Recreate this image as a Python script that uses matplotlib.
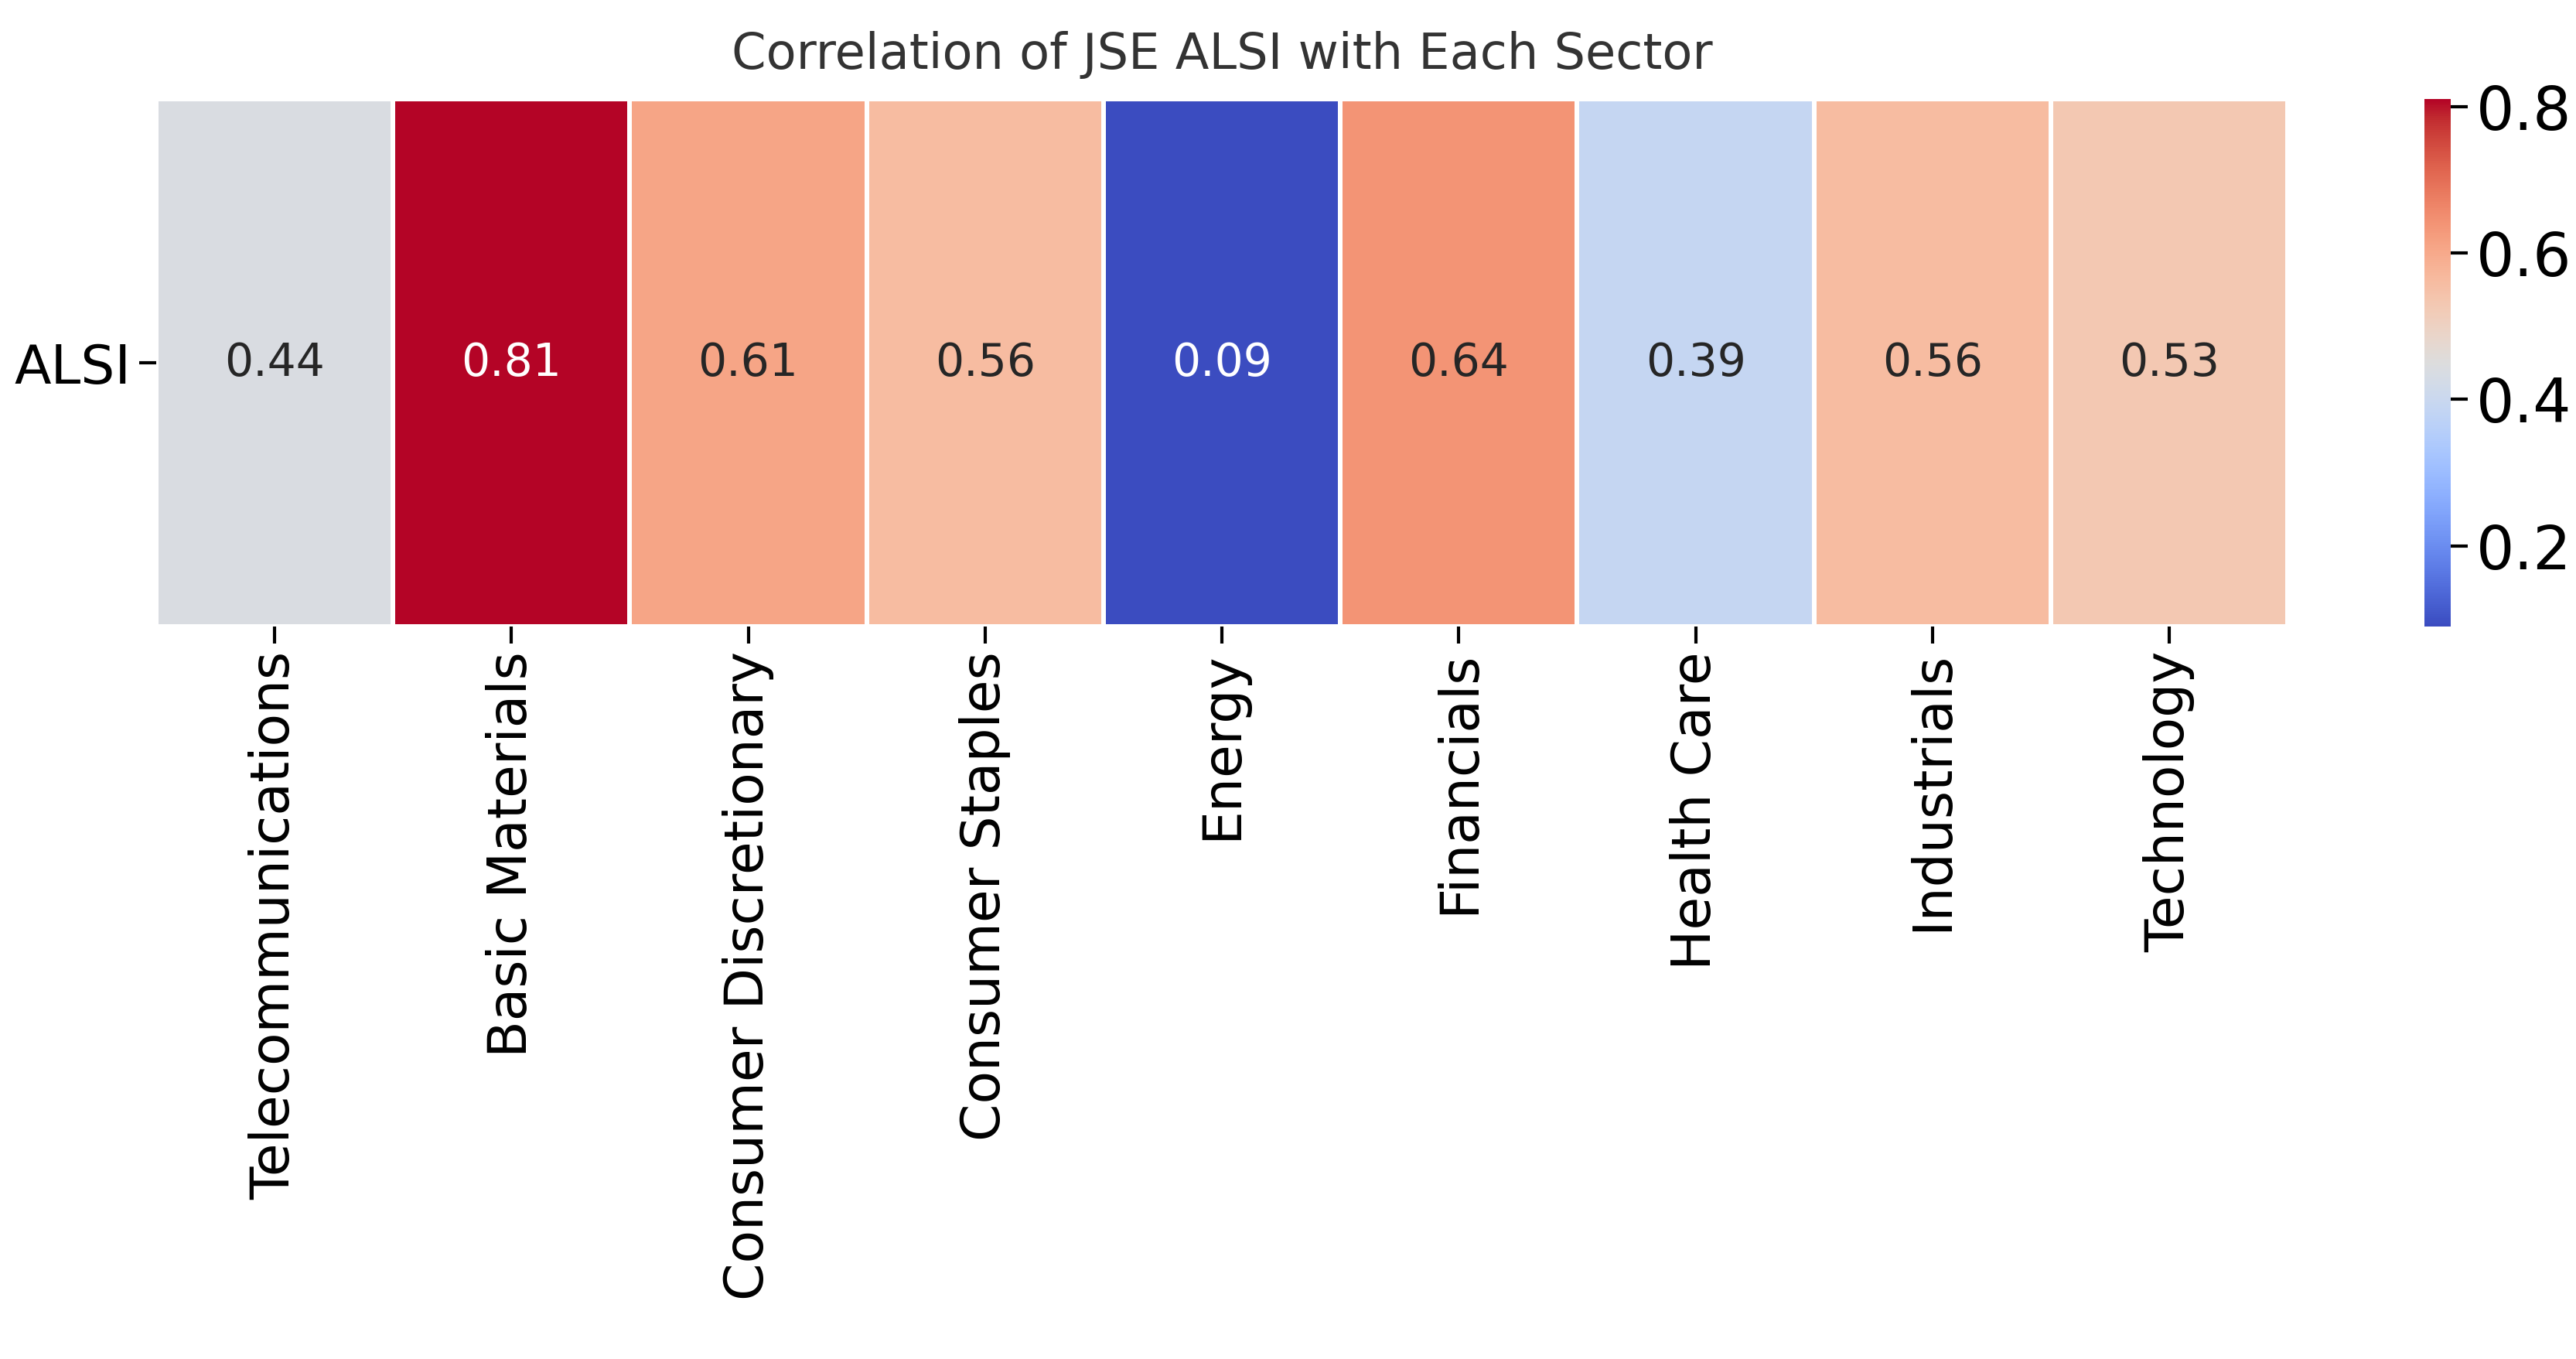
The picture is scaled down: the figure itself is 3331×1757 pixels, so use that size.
import matplotlib
matplotlib.use("Agg")
import matplotlib.pyplot as plt
import numpy as np

sectors = ["Telecommunications", "Basic Materials", "Consumer Discretionary", "Consumer Staples",
           "Energy", "Financials", "Health Care", "Industrials", "Technology"]
values = [0.44, 0.81, 0.61, 0.56, 0.09, 0.64, 0.39, 0.56, 0.53]
row_label = "ALSI"
cbar_ticks = [0.2, 0.4, 0.6, 0.8]

fig = plt.figure(figsize=(3331/200, 1757/200), dpi=200)
ax = fig.add_axes([0.0606, 0.539, 0.8275, 0.388])
cax = fig.add_axes([0.9413, 0.539, 0.0102, 0.388])

data = np.array([values])
vmin, vmax = min(values), max(values)
cmap = plt.get_cmap("coolwarm")
mesh = ax.pcolormesh(data, cmap=cmap, vmin=vmin, vmax=vmax, edgecolor="white", linewidth=2)
ax.set_xlim(0, len(values)); ax.set_ylim(1, 0)
for i, v in enumerate(values):
    r, g, b, _ = cmap((v - vmin) / (vmax - vmin))
    lum = 0.2126 * r + 0.7152 * g + 0.0722 * b
    ax.text(i + 0.5, 0.5, f"{v:.2f}", ha="center", va="center", fontsize=21,
            color="white" if lum < 0.4 else "#262626")
ax.set_xticks(np.arange(len(values)) + 0.5)
ax.set_xticklabels(sectors, rotation=90, fontsize=25)
ax.set_yticks([0.5])
ax.set_yticklabels([row_label], fontsize=25)
for s in ax.spines.values():
    s.set_visible(False)
ax.tick_params(length=8, width=1.5)
ax.set_title("Correlation of JSE ALSI with Each Sector", fontsize=23, color="#333333", pad=14)

cb = fig.colorbar(mesh, cax=cax, ticks=cbar_ticks)
cb.outline.set_visible(False)
cb.ax.tick_params(labelsize=28, length=8, width=1.5)
fig.savefig("out.png", dpi=200)
